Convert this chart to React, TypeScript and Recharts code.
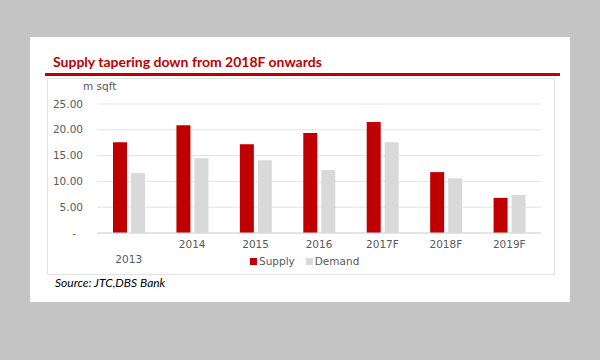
import React from "react";
import { BarChart, Bar, XAxis, YAxis, CartesianGrid } from "recharts";

const years = ["2013", "2014", "2015", "2016", "2017F", "2018F", "2019F"];
const supply = [17.6, 20.9, 17.2, 19.4, 21.5, 11.8, 6.8];
const demand = [11.6, 14.5, 14.1, 12.2, 17.6, 10.6, 7.4];
const yTicks = [0, 5, 10, 15, 20, 25];

const seriesInfo = [
  { key: "supply", label: "Supply", color: "#c00000" },
  { key: "demand", label: "Demand", color: "#d9d9d9" },
];

const data = years.map((year, i) => ({
  year,
  supply: supply[i],
  demand: demand[i],
}));

const tickFont = "'DejaVu Sans', sans-serif";

// y labels: zero shows as a dash, like an accounting format
const YTick = (props: any) => {
  const { x, y, payload } = props;
  const zero = payload.value === 0;
  return (
    <text
      x={zero ? x - 7 : x}
      y={y}
      dy="0.35em"
      textAnchor="end"
      fill="#595959"
      fontSize={10.5}
      fontFamily={tickFont}
    >
      {zero ? "-" : payload.value.toFixed(2)}
    </text>
  );
};

// first category label sits a line lower in the original
const XTick = (props: any) => {
  const { x, y, payload, index } = props;
  return (
    <text
      x={x}
      y={y + (index === 0 ? 15 : 0)}
      dy="0.71em"
      textAnchor="middle"
      fill="#595959"
      fontSize={10.5}
      fontFamily={tickFont}
    >
      {payload.value}
    </text>
  );
};

export default function App() {
  return (
    <div
      style={{
        position: "absolute",
        left: 0,
        top: 0,
        width: 600,
        height: 360,
        background: "#c4c4c4",
        overflow: "hidden",
      }}
    >
      {/* white card */}
      <div
        style={{
          position: "absolute",
          left: 30,
          top: 37,
          width: 540,
          height: 265,
          background: "#ffffff",
        }}
      />
      <div
        style={{
          position: "absolute",
          left: 53,
          top: 53,
          fontFamily: "Lato, sans-serif",
          fontWeight: 700,
          fontSize: 14,
          color: "#c00000",
          whiteSpace: "nowrap",
        }}
      >
        Supply tapering down from 2018F onwards
      </div>
      <div
        style={{
          position: "absolute",
          left: 45,
          top: 73,
          width: 515,
          height: 3,
          background: "#c00000",
        }}
      />
      {/* inner chart frame */}
      <div
        style={{
          position: "absolute",
          left: 47,
          top: 78,
          width: 506,
          height: 195,
          border: "1px solid #e3e3e3",
        }}
      />
      <div
        style={{
          position: "absolute",
          left: 83,
          top: 80,
          fontFamily: tickFont,
          fontSize: 10.5,
          color: "#595959",
          whiteSpace: "nowrap",
        }}
      >
        m sqft
      </div>

      <div style={{ position: "absolute", left: 0, top: 0 }}>
        <BarChart
          width={600}
          height={360}
          data={data}
          margin={{ top: 104, right: 59, left: 47, bottom: 97 }}
          barGap={4}
          barSize={14}
        >
          <CartesianGrid vertical={false} stroke="#e3e3e3" />
          <XAxis
            dataKey="year"
            height={30}
            tickLine={false}
            axisLine={{ stroke: "#d9d9d9" }}
            tick={<XTick />}
            interval={0}
          />
          <YAxis
            width={50}
            domain={[0, 25]}
            ticks={yTicks}
            axisLine={false}
            tickLine={false}
            tickMargin={8}
            tick={<YTick />}
          />
          {seriesInfo.map((s) => (
            <Bar
              key={s.key}
              dataKey={s.key}
              fill={s.color}
              isAnimationActive={false}
            />
          ))}
        </BarChart>
      </div>

      {/* legend */}
      <div
        style={{
          position: "absolute",
          left: 250,
          top: 255,
          display: "flex",
          alignItems: "center",
          fontFamily: tickFont,
          fontSize: 10.5,
          color: "#595959",
          whiteSpace: "nowrap",
        }}
      >
        {seriesInfo.map((s, i) => (
          <div
            key={s.key}
            style={{
              display: "flex",
              alignItems: "center",
              marginLeft: i === 0 ? 0 : 11,
            }}
          >
            <span
              style={{
                display: "inline-block",
                width: 7,
                height: 7,
                background: s.color,
                marginRight: 2,
              }}
            />
            {s.label}
          </div>
        ))}
      </div>

      <div
        style={{
          position: "absolute",
          left: 55,
          top: 275,
          fontFamily: "Lato, sans-serif",
          fontStyle: "italic",
          fontSize: 12,
          color: "#000000",
          whiteSpace: "nowrap",
        }}
      >
        Source: JTC,DBS Bank
      </div>
    </div>
  );
}
